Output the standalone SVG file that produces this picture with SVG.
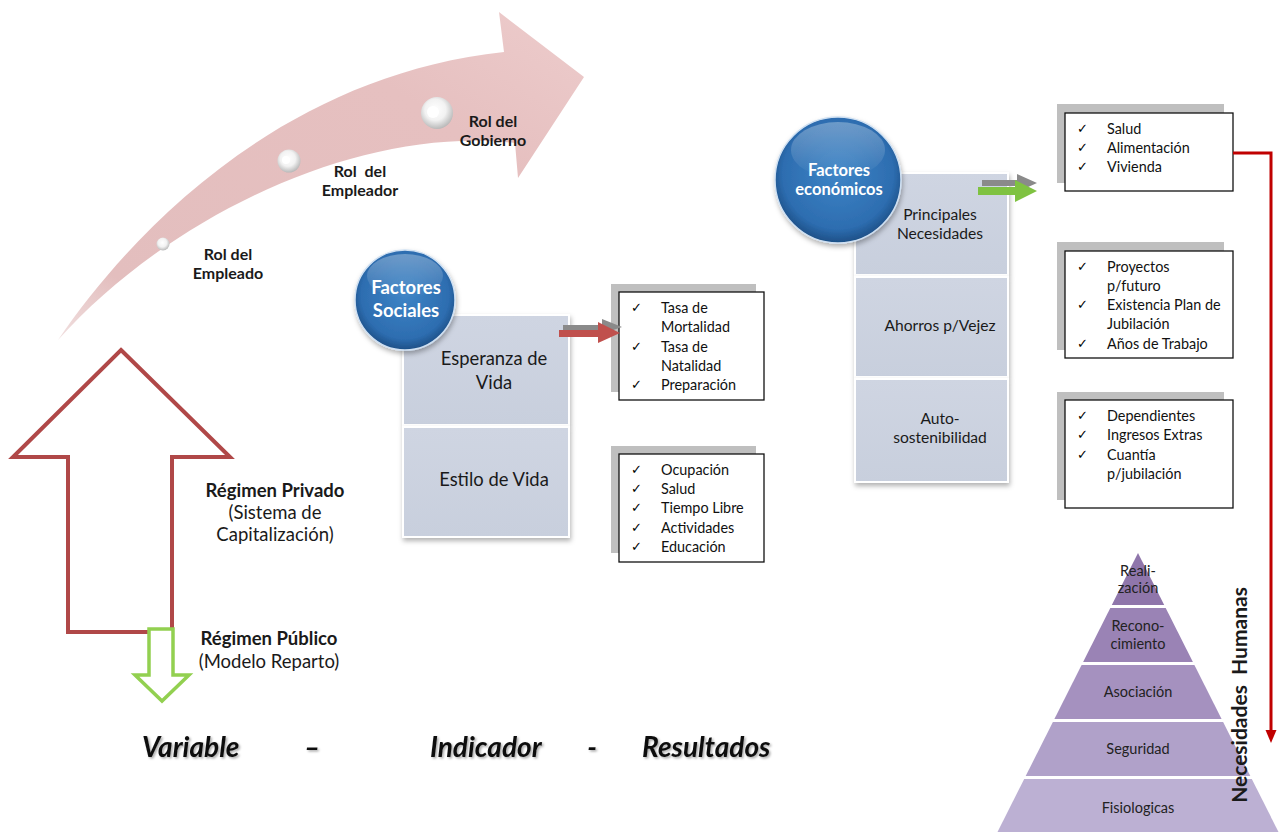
<svg xmlns="http://www.w3.org/2000/svg" width="1285" height="832" viewBox="0 0 1285 832">
<defs>
<linearGradient id="pink" x1="0" y1="1" x2="1" y2="0">
<stop offset="0" stop-color="#f1e0e0"/>
<stop offset="0.15" stop-color="#e3bebe"/>
<stop offset="0.7" stop-color="#e6c0c0"/>
<stop offset="1" stop-color="#edcccc"/>
</linearGradient>
<radialGradient id="ball" cx="0.45" cy="0.4" r="0.6">
<stop offset="0" stop-color="#ffffff"/>
<stop offset="0.55" stop-color="#f2f2f2"/>
<stop offset="1" stop-color="#b9b9b9"/>
</radialGradient>
<radialGradient id="blue" cx="0.5" cy="0.45" r="0.55">
<stop offset="0" stop-color="#3d84c6"/>
<stop offset="0.8" stop-color="#2d6db0"/>
<stop offset="1" stop-color="#1d4f86"/>
</radialGradient>
<linearGradient id="gloss" x1="0" y1="0" x2="0" y2="1">
<stop offset="0" stop-color="#ffffff" stop-opacity="0.3"/>
<stop offset="1" stop-color="#ffffff" stop-opacity="0"/>
</linearGradient>
<linearGradient id="block" x1="0" y1="0" x2="0" y2="1">
<stop offset="0" stop-color="#cfd5e2"/>
<stop offset="1" stop-color="#c8cfdd"/>
</linearGradient>
<filter id="sh" x="-20%" y="-20%" width="140%" height="140%">
<feDropShadow dx="1" dy="3" stdDeviation="2.5" flood-color="#000" flood-opacity="0.3"/>
</filter>
<filter id="tsh" x="-10%" y="-30%" width="120%" height="160%">
<feDropShadow dx="1.5" dy="1.5" stdDeviation="0.8" flood-color="#000" flood-opacity="0.35"/>
</filter>
</defs>
<style>
.t{font-family:Lato,"Liberation Sans",sans-serif;fill:#1a1a1a}
.b{font-weight:bold}
.c{text-anchor:middle}
.w{fill:#ffffff}
.chk{font-family:"DejaVu Sans",sans-serif;font-size:13px;fill:#000}
.li{font-family:Lato,"Liberation Sans",sans-serif;font-size:14.4px;fill:#111}
.box{fill:#ffffff;stroke:#111;stroke-width:1.3}
.shd{fill:#bfbfbf}
.blk{fill:url(#block);stroke:#ffffff;stroke-width:2}
.pyr{font-family:Lato,"Liberation Sans",sans-serif;font-size:14.5px;fill:#222;text-anchor:middle}
.bi{font-family:Lato,"Liberation Sans",sans-serif;font-weight:bold;font-style:italic;font-size:28px;fill:#111}
</style>

<g id="curved-arrow">
<path d="M58,340 C140,220 290,75 504,52 L499,12 L584,77 L518,178 L515,143 C360,125 170,215 58,340 Z" fill="url(#pink)"/>
<circle cx="163" cy="244" r="6.5" fill="url(#ball)"/>
<circle cx="289" cy="161" r="11.5" fill="url(#ball)"/>
<circle cx="286" cy="160" r="4" fill="#ffffff"/>
<circle cx="437" cy="113" r="16" fill="url(#ball)"/>
<circle cx="433" cy="112" r="6" fill="#ffffff"/>
<text class="t b c" font-size="16" x="228" y="260">Rol del</text>
<text class="t b c" font-size="16" x="228" y="279">Empleado</text>
<text class="t b c" font-size="16" x="360" y="177" style="white-space:pre">Rol  del</text>
<text class="t b c" font-size="16" x="360" y="196">Empleador</text>
<text class="t b c" font-size="16" x="493" y="127">Rol del</text>
<text class="t b c" font-size="16" x="493" y="146">Gobierno</text>
</g>

<g id="regimen-privado">
<path d="M121,350 L230,457 L172,457 L172,632 L68,632 L68,457 L13,457 Z" fill="#ffffff" stroke="#b04848" stroke-width="4" stroke-linejoin="miter"/>
<text class="t b c" font-size="18.5" x="275" y="497">Régimen Privado</text>
<text class="t c" font-size="18.5" x="275" y="519">(Sistema de</text>
<text class="t c" font-size="18.5" x="275" y="541">Capitalización)</text>
</g>

<g id="regimen-publico">
<path d="M149,629 L173,629 L173,675 L189,675 L162,701 L135,675 L149,675 Z" fill="#ffffff" stroke="#92d050" stroke-width="3.5"/>
<text class="t b c" font-size="18.5" x="269" y="645">Régimen Público</text>
<text class="t c" font-size="18.5" x="269" y="668">(Modelo Reparto)</text>
</g>

<g id="bottom-labels" filter="url(#tsh)">
<text class="bi" x="142" y="757">Variable</text>
<text class="bi c" x="312" y="757">–</text>
<text class="bi" x="430" y="757">Indicador</text>
<text class="bi c" x="592" y="757">-</text>
<text class="bi" x="642" y="757">Resultados</text>
</g>

<g id="sociales-block">
<rect class="blk" x="403" y="315" width="166" height="110" filter="url(#sh)"/>
<rect class="blk" x="403" y="427" width="166" height="110" filter="url(#sh)"/>
<text class="t c" font-size="18.4" x="494" y="365">Esperanza de</text>
<text class="t c" font-size="18.4" x="494" y="389">Vida</text>
<text class="t c" font-size="18.4" x="494" y="486">Estilo de Vida</text>
</g>

<g id="factores-sociales">
<circle cx="405" cy="300" r="50" fill="url(#blue)" stroke="#cfe0f2" stroke-width="1.5" filter="url(#sh)"/>
<ellipse cx="405" cy="276" rx="38" ry="22" fill="url(#gloss)"/>
<text class="t b c w" font-size="18.5" x="406" y="294">Factores</text>
<text class="t b c w" font-size="18.5" x="406" y="317">Sociales</text>
</g>

<g id="economicos-block">
<rect class="blk" x="855" y="173" width="153" height="102" filter="url(#sh)"/>
<rect class="blk" x="855" y="277" width="153" height="100" filter="url(#sh)"/>
<rect class="blk" x="855" y="379" width="153" height="103" filter="url(#sh)"/>
<text class="t c" font-size="15.6" x="940" y="220">Principales</text>
<text class="t c" font-size="15.6" x="940" y="239">Necesidades</text>
<text class="t c" font-size="15.6" x="940" y="331">Ahorros p/Vejez</text>
<text class="t c" font-size="15.6" x="940" y="424">Auto-</text>
<text class="t c" font-size="15.6" x="940" y="443">sostenibilidad</text>
</g>

<g id="factores-economicos">
<circle cx="838" cy="180" r="63" fill="url(#blue)" stroke="#cfe0f2" stroke-width="1.5" filter="url(#sh)"/>
<ellipse cx="838" cy="150" rx="47" ry="28" fill="url(#gloss)"/>
<text class="t b c w" font-size="16.5" x="839" y="176">Factores</text>
<text class="t b c w" font-size="16.5" x="839" y="195">económicos</text>
</g>

<g id="sociales-list-1">
<rect class="shd" x="611" y="284" width="145" height="108"/>
<rect class="box" x="619" y="292" width="145" height="108"/>
<text class="chk" x="631" y="312">✓</text><text class="li" x="661" y="313">Tasa de</text>
<text class="li" x="661" y="332">Mortalidad</text>
<text class="chk" x="631" y="351">✓</text><text class="li" x="661" y="352">Tasa de</text>
<text class="li" x="661" y="371">Natalidad</text>
<text class="chk" x="631" y="389">✓</text><text class="li" x="661" y="390">Preparación</text>
</g>

<g id="sociales-list-2">
<rect class="shd" x="611" y="446" width="145" height="107"/>
<rect class="box" x="619" y="454" width="145" height="108"/>
<text class="chk" x="631" y="474">✓</text><text class="li" x="661" y="475">Ocupación</text>
<text class="chk" x="631" y="493">✓</text><text class="li" x="661" y="494">Salud</text>
<text class="chk" x="631" y="512">✓</text><text class="li" x="661" y="513">Tiempo Libre</text>
<text class="chk" x="631" y="532">✓</text><text class="li" x="661" y="533">Actividades</text>
<text class="chk" x="631" y="551">✓</text><text class="li" x="661" y="552">Educación</text>
</g>

<g id="economicos-list-1">
<rect class="shd" x="1057" y="104" width="167" height="79"/>
<rect class="box" x="1065" y="113" width="168" height="78"/>
<text class="chk" x="1077" y="133">✓</text><text class="li" x="1107" y="134">Salud</text>
<text class="chk" x="1077" y="152">✓</text><text class="li" x="1107" y="153">Alimentación</text>
<text class="chk" x="1077" y="171">✓</text><text class="li" x="1107" y="172">Vivienda</text>
</g>

<g id="economicos-list-2">
<rect class="shd" x="1057" y="242" width="167" height="108"/>
<rect class="box" x="1065" y="251" width="168" height="107"/>
<text class="chk" x="1077" y="271">✓</text><text class="li" x="1107" y="272">Proyectos</text>
<text class="li" x="1107" y="291">p/futuro</text>
<text class="chk" x="1077" y="309">✓</text><text class="li" x="1107" y="310">Existencia Plan de</text>
<text class="li" x="1107" y="329">Jubilación</text>
<text class="chk" x="1077" y="348">✓</text><text class="li" x="1107" y="349">Años de Trabajo</text>
</g>

<g id="economicos-list-3">
<rect class="shd" x="1057" y="392" width="167" height="108"/>
<rect class="box" x="1065" y="400" width="168" height="108"/>
<text class="chk" x="1077" y="420">✓</text><text class="li" x="1107" y="421">Dependientes</text>
<text class="chk" x="1077" y="439">✓</text><text class="li" x="1107" y="440">Ingresos Extras</text>
<text class="chk" x="1077" y="459">✓</text><text class="li" x="1107" y="460">Cuantía</text>
<text class="li" x="1107" y="479">p/jubilación</text>
</g>

<g id="pyramid">
<polygon points="1138,553 1164.2,605 1111.8,605" fill="#8f76ab"/>
<polygon points="1110.3,608 1165.7,608 1192.9,662 1083.1,662" fill="#9a83b5"/>
<polygon points="1081.6,665 1194.4,665 1221.6,719 1054.4,719" fill="#a591bf"/>
<polygon points="1052.9,722 1223.1,722 1250.3,776 1025.7,776" fill="#b0a1c9"/>
<polygon points="1024.2,779 1251.8,779 1278.5,832 997.5,832" fill="#bcb0d3"/>
<text class="pyr" x="1138" y="576">Reali-</text>
<text class="pyr" x="1138" y="593">zación</text>
<text class="pyr" x="1138" y="631">Recono-</text>
<text class="pyr" x="1138" y="649">cimiento</text>
<text class="pyr" x="1138" y="697">Asociación</text>
<text class="pyr" x="1138" y="754">Seguridad</text>
<text class="pyr" x="1138" y="813">Fisiologicas</text>
</g>

<g id="necesidades-label">
<text class="t b c" font-size="21" fill="#111" transform="translate(1247,695) rotate(-90)" style="white-space:pre">Necesidades  Humanas</text>
</g>

<g id="connectors">
<path d="M563,325 L602,325 L602,319 L622,327 L602,334 L602,332 L563,332 Z" fill="#8a8a8a"/>
<path d="M559,330 L598,330 L598,322 L620,333 L598,343 L598,337 L559,337 Z" fill="#c0504d"/>
<path d="M982,180 L1017,180 L1017,174 L1037,183 L1017,192 L1017,186 L982,186 Z" fill="#8a8a8a"/>
<path d="M978,187 L1015,187 L1015,180 L1037,191 L1015,202 L1015,195 L978,195 Z" fill="#7fc241"/>
<polyline points="1233,153 1271,153 1271,732" fill="none" stroke="#c00000" stroke-width="3"/>
<polygon points="1265.5,730 1276.5,730 1271,743" fill="#c00000"/>
</g>
</svg>
